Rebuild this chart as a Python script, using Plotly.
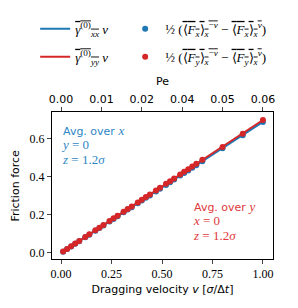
import plotly.graph_objects as go

velocity = [0.01, 0.03, 0.05, 0.07, 0.09, 0.12, 0.14, 0.17, 0.19, 0.21, 0.24, 0.26,
            0.28, 0.31, 0.33, 0.35, 0.38, 0.40, 0.42, 0.44, 0.47, 0.49, 0.52, 0.54,
            0.56, 0.59, 0.61, 0.63, 0.65, 0.67, 0.70, 0.80, 0.90, 1.00]
force_x = [0.006, 0.020, 0.034, 0.048, 0.062, 0.082, 0.096, 0.117, 0.131, 0.145, 0.165, 0.179,
           0.193, 0.214, 0.228, 0.241, 0.262, 0.276, 0.290, 0.303, 0.324, 0.338, 0.358, 0.372,
           0.386, 0.407, 0.421, 0.434, 0.448, 0.462, 0.483, 0.551, 0.620, 0.690]
force_y = [0.007, 0.021, 0.035, 0.049, 0.063, 0.084, 0.098, 0.119, 0.133, 0.147, 0.168, 0.182,
           0.196, 0.217, 0.231, 0.245, 0.266, 0.280, 0.294, 0.308, 0.329, 0.343, 0.364, 0.378,
           0.392, 0.413, 0.427, 0.441, 0.455, 0.469, 0.490, 0.558, 0.628, 0.700]
line_v = [0.01, 1.00]
line_gxx = [0.0069, 0.690]
line_gyy = [0.0070, 0.700]

x_ticks = [0.0, 0.25, 0.5, 0.75, 1.0]
y_ticks = [0.0, 0.2, 0.4, 0.6]
pe_tickvals = [0.0, 0.2, 0.4, 0.6, 0.8, 1.0]
pe_ticktext = ["0.00", "0.01", "0.02", "0.04", "0.05", "0.06"]

BLUE = "#1f77b4"
RED = "#d62728"
SERIF = "Liberation Serif"
SANS = "DejaVu Sans"

OL = "<span style='text-decoration:overline'>"
lab_gxx = OL + "<i>γ</i><sup>(0)</sup><sub><i>xx</i></sub></span> <i>v</i>"
lab_gyy = OL + "<i>γ</i><sup>(0)</sup><sub><i>yy</i></sub></span> <i>v</i>"
lab_fx = ("½ (" + OL + "⟨<i>F<sub>x</sub></i>⟩<sub><i>x</i></sub><sup>−<i>v</i></sup></span> − "
          + OL + "⟨<i>F<sub>x</sub></i>⟩<sub><i>x</i></sub><sup><i>v</i></sup></span>)")
lab_fy = ("½ (" + OL + "⟨<i>F<sub>y</sub></i>⟩<sub><i>x</i></sub><sup>−<i>v</i></sup></span> − "
          + OL + "⟨<i>F<sub>y</sub></i>⟩<sub><i>x</i></sub><sup><i>v</i></sup></span>)")

fig = go.Figure()
fig.add_trace(go.Scatter(x=velocity, y=force_x, mode="markers", name=lab_fx,
                         marker=dict(color=BLUE, size=6), legend="legend2", legendrank=1,
                         legendgroup="fx"))
fig.add_trace(go.Scatter(x=line_v, y=line_gxx, mode="lines", name=lab_gxx,
                         line=dict(color=BLUE, width=2), legend="legend", legendrank=1,
                         legendgroup="gxx"))
fig.add_trace(go.Scatter(x=velocity, y=force_y, mode="markers", name=lab_fy,
                         marker=dict(color=RED, size=6), legend="legend2", legendrank=2,
                         legendgroup="fy"))
fig.add_trace(go.Scatter(x=line_v, y=line_gyy, mode="lines", name=lab_gyy,
                         line=dict(color=RED, width=2), legend="legend", legendrank=2,
                         legendgroup="gyy"))
fig.add_trace(go.Scatter(x=[0.5], y=[0.3], xaxis="x2", mode="markers",
                         marker=dict(opacity=0), showlegend=False, hoverinfo="skip"))

leg_common = dict(orientation="v", xref="container", yref="container", xanchor="left",
                  yanchor="top", traceorder="grouped", font=dict(family=SERIF, size=13),
                  bgcolor="rgba(0,0,0,0)", itemwidth=30, tracegroupgap=8)

xr = [-0.045, 1.05]
fig.update_layout(
    width=298, height=308,
    margin=dict(l=52, r=25, t=112, b=49, autoexpand=False),
    plot_bgcolor="white", paper_bgcolor="white",
    font=dict(family=SANS, size=11, color="black"),
    showlegend=True,
    legend=dict(x=0.118, y=0.955, **leg_common),
    legend2=dict(x=0.42, y=0.955, **leg_common),
    xaxis=dict(range=xr, tickvals=x_ticks, tickformat=".2f", ticks="outside", ticklen=4,
               showline=True, linecolor="black", linewidth=1, mirror=True, showgrid=False,
               zeroline=False, tickfont=dict(family=SERIF, size=12),
               title=dict(text="Dragging velocity <i>v</i> [<i>σ</i>/Δ<i>t</i>]", standoff=4,
                          font=dict(family=SANS, size=11))),
    xaxis2=dict(range=xr, overlaying="x", side="top", tickvals=pe_tickvals, ticktext=pe_ticktext,
                ticks="outside", ticklen=4, showgrid=False, zeroline=False, showline=False,
                tickfont=dict(family=SANS, size=11),
                title=dict(text="Pe", standoff=4, font=dict(family=SANS, size=11))),
    yaxis=dict(range=[-0.032, 0.742], tickvals=y_ticks, tickformat=".1f", ticks="outside",
               ticklen=4, showline=True, linecolor="black", linewidth=1, mirror=True,
               showgrid=False, zeroline=False, tickfont=dict(family=SERIF, size=12),
               side="left"),
)

fig.add_annotation(xref="paper", yref="paper", x=-0.167, y=0.5, xanchor="center",
                   yanchor="middle", textangle=-90, showarrow=False,
                   text="Friction force", font=dict(family=SANS, size=11, color="black"))

MATH = "<span style='font-family:Liberation Serif;font-size:13px'><i>{}</i></span>"
EQ = "<span style='font-family:Liberation Serif;font-size:13px'>{}</span>"
fig.add_annotation(xref="paper", yref="paper", x=0.03, y=0.94, xanchor="left", yanchor="top",
                   align="left", showarrow=False, font=dict(color="#2f86c4", size=11),
                   text="Avg. over " + MATH.format("x") + "<br>" + MATH.format("y") +
                        EQ.format(" = 0") + "<br>" + MATH.format("z") + EQ.format(" = 1.2<i>σ</i>"))
fig.add_annotation(xref="paper", yref="paper", x=0.63, y=0.42, xanchor="left", yanchor="top",
                   align="left", showarrow=False, font=dict(color="#e0393b", size=11),
                   text="Avg. over " + MATH.format("y") + "<br>" + MATH.format("x") +
                        EQ.format(" = 0") + "<br>" + MATH.format("z") + EQ.format(" = 1.2<i>σ</i>"))

fig.write_html("out.html", config={"displayModeBar": False},
               post_script="document.body.style.margin='0';")
